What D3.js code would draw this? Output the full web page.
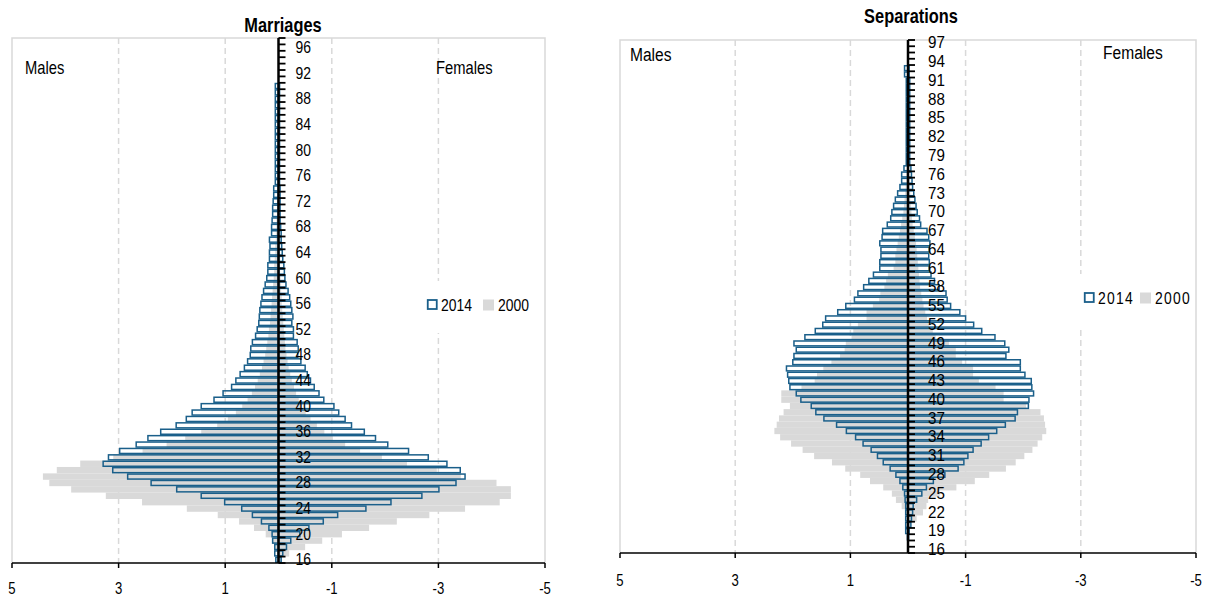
<!DOCTYPE html>
<html>
<head>
<meta charset="utf-8">
<script src="https://cdn.jsdelivr.net/npm/d3@7"></script>
<style>
  body { margin: 0; background: #fff; }
  svg text { font-family: "Liberation Sans", Arial, sans-serif; fill: #000; }
</style>
</head>
<body>
<svg id="chart" width="1213" height="604"></svg>
<script>
// ages 16..97, one value per age (share of total, %)
const ages = d3.range(16, 98);

// Marriages
const marMale2014 = [0.05,0.07,0.07,0.11,0.12,0.18,0.32,0.49,0.69,1.01,1.45,1.91,2.39,2.83,3.11,3.29,3.19,2.98,2.67,2.45,
  2.21,1.92,1.73,1.62,1.45,1.21,1.04,0.88,0.80,0.72,0.64,0.58,0.53,0.52,0.49,0.43,0.40,0.37,0.36,0.35,
  0.33,0.31,0.28,0.25,0.22,0.20,0.20,0.17,0.17,0.16,0.17,0.13,0.13,0.12,0.11,0.11,0.10,0.09,0.09,
  0.06,0.06,0.06,0.06,0.06,0.06,0.06,0.06,0.06,0.06,0.06,0.06,0.06,0.06,0.06,0.06,
  0,0,0,0,0,0,0];
const marFemale2014 = [0.05,0.08,0.15,0.23,0.40,0.57,0.84,1.11,1.64,2.11,2.69,3.01,3.33,3.50,3.41,3.16,2.81,2.44,2.05,1.82,
  1.61,1.37,1.25,1.13,1.04,0.85,0.76,0.67,0.60,0.54,0.50,0.42,0.36,0.37,0.35,0.28,0.28,0.25,0.27,0.25,
  0.23,0.21,0.18,0.14,0.12,0.11,0.10,0.08,0.07,0.06,0.05,0.05,0.04,0.03,0.03,0.03,0.03,0.03,0.03,
  0.02,0.02,0.02,0.02,0.02,0.02,0.02,0.02,0.02,0.02,0.02,0.02,0.02,0.02,0.02,0.02,
  0,0,0,0,0,0,0];
const marMale2000 = [0.02,0.03,0.06,0.12,0.24,0.46,0.74,1.14,1.72,2.56,3.24,3.89,4.30,4.42,4.16,3.72,3.10,2.55,2.10,1.75,
  1.45,1.15,0.95,0.80,0.68,0.58,0.50,0.44,0.39,0.35,0.31,0.28,0.25,0.23,0.21,0.19,0.18,0.16,0.15,0.14,
  0.13,0.12,0.11,0.10,0.09,0.08,0.08,0.07,0.06,0.06,0.05,0.05,0.04,0.04,0.03,0.03,0.03,0.02,0.02,
  0.01,0.01,0.01,0.01,0.01,0.01,0.01,0.01,0.01,0.01,0.01,0.01,0.01,0.01,0.01,0.01,
  0,0,0,0,0,0,0];
const marFemale2000 = [0.05,0.20,0.50,0.82,1.19,1.70,2.22,2.83,3.50,4.15,4.36,4.36,4.09,3.42,2.97,2.41,1.94,1.53,1.25,1.02,
  0.86,0.72,0.60,0.51,0.44,0.38,0.33,0.29,0.25,0.22,0.19,0.17,0.15,0.13,0.12,0.11,0.10,0.09,0.08,0.07,
  0.06,0.06,0.05,0.05,0.04,0.03,0.03,0.03,0.03,0.03,0.02,0.02,0.02,0.02,0.02,0.02,0.02,0.02,0.02,
  0.01,0.01,0.01,0.01,0.01,0.01,0.01,0.01,0.01,0.01,0.01,0.01,0.01,0.01,0.01,0.01,
  0,0,0,0,0,0,0];

// Separations
const sepMale2014 = [0,0,0.01,0.04,0.04,0.04,0.04,0.04,0.05,0.06,0.09,0.14,0.21,0.31,0.43,0.53,0.64,0.78,0.91,1.07,
  1.24,1.46,1.60,1.68,1.86,1.94,2.05,2.07,2.09,2.11,2.00,1.98,1.94,1.98,1.79,1.61,1.48,1.43,1.22,1.08,
  0.93,0.87,0.77,0.68,0.60,0.49,0.49,0.47,0.47,0.49,0.45,0.44,0.36,0.30,0.28,0.25,0.22,0.18,0.14,0.11,
  0.11,0.07,0.03,0.03,0.03,0.03,0.03,0.03,0.03,0.03,0.03,0.03,0.03,0.03,0.03,0.03,
  0.06,0.06,0,0,0,0];
const sepFemale2014 = [0,0,0.01,0.02,0.05,0.06,0.08,0.09,0.15,0.24,0.32,0.44,0.64,0.87,0.97,1.04,1.13,1.27,1.40,1.54,
  1.69,1.86,1.90,2.09,2.10,2.18,2.15,2.14,2.03,1.95,1.95,1.70,1.75,1.68,1.51,1.28,1.14,1.00,0.90,0.74,
  0.68,0.66,0.54,0.46,0.40,0.37,0.37,0.36,0.37,0.38,0.36,0.33,0.22,0.20,0.16,0.14,0.12,0.10,0.08,0.07,
  0.06,0.05,0.03,0.03,0.03,0.03,0.03,0.03,0.03,0.03,0.03,0.03,0.03,0.03,0.03,0.03,
  0.02,0.02,0,0,0,0];
const sepMale2000 = [0,0,0,0.01,0.01,0.02,0.05,0.11,0.21,0.28,0.43,0.66,0.83,1.09,1.32,1.63,1.83,2.03,2.22,2.32,
  2.28,2.24,2.16,2.05,2.20,2.20,1.85,1.62,1.58,1.47,1.33,1.18,1.10,1.08,0.98,0.95,0.87,0.72,0.72,0.61,
  0.50,0.48,0.41,0.38,0.35,0.25,0.22,0.22,0.20,0.18,0.16,0.14,0.12,0.10,0.08,0.07,0.06,0.05,0.04,0.03,
  0.03,0.02,0.01,0.01,0.01,0.01,0.01,0.01,0.01,0.01,0.01,0.01,0.01,0.01,0.01,0.01,
  0,0,0,0,0,0];
const sepFemale2000 = [0,0,0.01,0.02,0.05,0.15,0.26,0.32,0.35,0.55,0.84,1.16,1.41,1.70,1.87,2.02,2.16,2.25,2.33,2.40,
  2.38,2.36,2.30,2.05,1.66,1.66,1.52,1.23,1.13,1.13,0.94,0.83,0.83,0.71,0.48,0.43,0.37,0.33,0.30,0.27,
  0.25,0.23,0.21,0.20,0.19,0.18,0.17,0.16,0.15,0.14,0.12,0.10,0.08,0.07,0.06,0.05,0.04,0.04,0.03,0.03,
  0.02,0.02,0.01,0.01,0.01,0.01,0.01,0.01,0.01,0.01,0.01,0.01,0.01,0.01,0.01,0.01,
  0,0,0,0,0,0];

const xTicks = [5, 3, 1, -1, -3, -5];
const blue = "#1a5f8a", grey = "#d9d9d9", gridCol = "#d9d9d9";

const svg = d3.select("#chart");

// narrow text: Liberation Sans squeezed horizontally, like Arial Narrow
function txt(parent, x, y, s, size, anchor, sx) {
  return parent.append("text")
    .attr("transform", `translate(${x},${y}) scale(${sx || 0.82},1)`)
    .attr("text-anchor", anchor || "start")
    .attr("font-size", size).text(s);
}

function pyramid(c) {
  const g = svg.append("g");
  const x = d3.scaleLinear().domain([5, -5]).range([c.left, c.right]);
  const y = d3.scaleBand().domain(ages).range([c.bottom, c.top]);
  const bw = y.bandwidth();

  // frame + grid
  g.append("path")
    .attr("d", `M${c.left},${c.bottom}V${c.top}H${c.right}V${c.bottom}`)
    .attr("fill", "none").attr("stroke", gridCol).attr("stroke-width", 1.5);
  g.selectAll(".grid").data([3, 1, -1, -3]).join("line")
    .attr("x1", d => x(d)).attr("x2", d => x(d))
    .attr("y1", c.top).attr("y2", c.bottom)
    .attr("stroke", gridCol).attr("stroke-width", 1.5).attr("stroke-dasharray", "6,4");

  // 2000 (filled grey)
  g.selectAll(".m00").data(ages).join("rect")
    .attr("x", (d, i) => x(c.m00[i])).attr("width", (d, i) => x(0) - x(c.m00[i]))
    .attr("y", d => y(d)).attr("height", bw).attr("fill", grey);
  g.selectAll(".f00").data(ages).join("rect")
    .attr("x", x(0)).attr("width", (d, i) => x(-c.f00[i]) - x(0))
    .attr("y", d => y(d)).attr("height", bw).attr("fill", grey);

  // 2014 (outlined)
  const m14 = ages.map((a, i) => ({a, v: c.m14[i]})).filter(d => d.v > 0);
  const f14 = ages.map((a, i) => ({a, v: c.f14[i]})).filter(d => d.v > 0);
  g.selectAll(".m14").data(m14).join("rect")
    .attr("x", d => x(d.v)).attr("width", d => x(0) - x(d.v))
    .attr("y", d => y(d.a) + 0.7).attr("height", bw - 1.4)
    .attr("fill", "none").attr("stroke", blue).attr("stroke-width", 1.5);
  g.selectAll(".f14").data(f14).join("rect")
    .attr("x", x(0)).attr("width", d => x(-d.v) - x(0))
    .attr("y", d => y(d.a) + 0.7).attr("height", bw - 1.4)
    .attr("fill", "none").attr("stroke", blue).attr("stroke-width", 1.5);

  // vertical category axis at 0
  g.selectAll(".tk").data(ages.concat([98])).join("line")
    .attr("x1", x(0)).attr("x2", x(0) + 7)
    .attr("y1", (d, i) => c.bottom - i * bw).attr("y2", (d, i) => c.bottom - i * bw)
    .attr("stroke", "#000").attr("stroke-width", 1.8);
  g.append("line").attr("x1", x(0)).attr("x2", x(0))
    .attr("y1", c.top).attr("y2", c.bottom)
    .attr("stroke", "#000").attr("stroke-width", 2.5);
  ages.filter(a => (a - 16) % c.step === 0).forEach(a => {
    txt(g, x(0) + c.labDx, y(a) + bw / 2 + c.labDy, a, c.ageFont, "start", c.ageSx)
      .attr("dominant-baseline", "middle");
  });

  // bottom value axis
  g.append("line").attr("x1", c.left).attr("x2", c.right)
    .attr("y1", c.bottom).attr("y2", c.bottom)
    .attr("stroke", "#000").attr("stroke-width", 1.5);
  g.selectAll(".xt").data(xTicks).join("line")
    .attr("x1", d => x(d)).attr("x2", d => x(d))
    .attr("y1", c.bottom).attr("y2", c.bottom + 5)
    .attr("stroke", "#000").attr("stroke-width", 1.5);
  xTicks.forEach(d => txt(g, x(d), c.xLabY, d, 16, "middle"));

  // title and side captions
  txt(g, c.titleX, c.titleY, c.title, 20, "middle").attr("font-weight", "bold");
  txt(g, c.malesX, c.malesY, "Males", c.capFont);
  txt(g, c.femX, c.femY, "Females", c.capFont);

  // legend
  const lg = g.append("g").attr("transform", `translate(${c.legX},${c.legY})`);
  lg.append("rect").attr("x", -8).attr("y", -24).attr("width", 118).attr("height", 52).attr("fill", "#fff");
  lg.append("rect").attr("x", 0.75).attr("y", -5).attr("width", 9).attr("height", 9)
    .attr("fill", "#fff").attr("stroke", blue).attr("stroke-width", 1.8);
  txt(lg, 14, 6, "2014", 17).attr("letter-spacing", c.legSp);
  lg.append("rect").attr("x", 56).attr("y", -5.5).attr("width", 11).attr("height", 11).attr("fill", grey);
  txt(lg, 71, 6, "2000", 17).attr("letter-spacing", c.legSp);
}

pyramid({
  title: "Marriages", titleX: 283, titleY: 32,
  left: 12, right: 545, top: 38, bottom: 563,
  m14: marMale2014, f14: marFemale2014, m00: marMale2000, f00: marFemale2000,
  step: 4, labDx: 17, labDy: 1, ageFont: 17, ageSx: 0.82, xLabY: 594,
  malesX: 25, malesY: 74, femX: 436, femY: 74, capFont: 18,
  legX: 427, legY: 305, legSp: 0
});

pyramid({
  title: "Separations", titleX: 911, titleY: 23,
  left: 620, right: 1196, top: 40, bottom: 553,
  m14: sepMale2014, f14: sepFemale2014, m00: sepMale2000, f00: sepFemale2000,
  step: 3, labDx: 20, labDy: 1, ageFont: 16, ageSx: 0.95, xLabY: 586,
  malesX: 630, malesY: 61, femX: 1103, femY: 59, capFont: 19,
  legX: 1084, legY: 298, legSp: 1.5
});
</script>
</body>
</html>
